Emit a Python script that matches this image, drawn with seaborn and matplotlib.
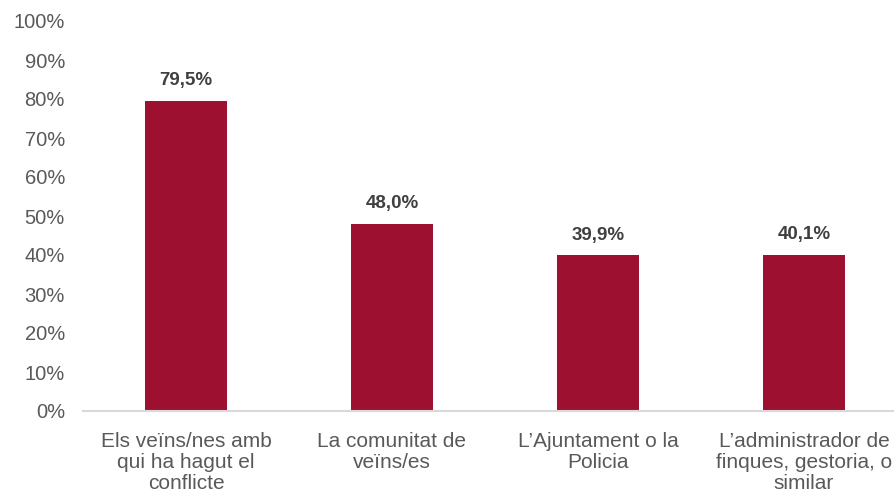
import matplotlib
matplotlib.use("Agg")
import matplotlib.pyplot as plt
import seaborn as sns
import pandas as pd
from matplotlib.ticker import FuncFormatter

categories = ["Els veïns/nes amb\nqui ha hagut el\nconflicte",
              "La comunitat de\nveïns/es",
              "L\u2019Ajuntament o la\nPolicia",
              "L\u2019administrador de\nfinques, gestoria, o\nsimilar"]
values = [79.5, 48.0, 39.9, 40.1]
value_labels = ["79,5%", "48,0%", "39,9%", "40,1%"]

sns.set_style("white")
plt.rcParams['font.family'] = ['Liberation Sans', 'DejaVu Sans']

df = pd.DataFrame({"cat": categories, "val": values})

fig = plt.figure(figsize=(8.95, 4.95), dpi=100)
ax = fig.add_axes([83/895, 84/495, (907-83)/895, (411-21)/495])
sns.barplot(data=df, x="cat", y="val", color="#9E1030", width=0.4, ax=ax,
            saturation=1, edgecolor="none")

ax.set_ylim(0, 100)
ax.set_yticks(range(0, 101, 10))
ax.yaxis.set_major_formatter(FuncFormatter(lambda v, p: f"{int(v)}%"))
ax.set_xlabel("")
ax.set_ylabel("")
for s in ["top", "right", "left"]:
    ax.spines[s].set_visible(False)
ax.spines["bottom"].set_color("#D9D9D9")
ax.spines["bottom"].set_linewidth(1.5)
ax.tick_params(axis="y", length=0, labelsize=14.5, labelcolor="#595959", pad=13)
ax.tick_params(axis="x", length=0, labelsize=15, labelcolor="#595959", pad=15)
for lab in ax.get_xticklabels():
    lab.set_linespacing(1.15)

for i, (v, t) in enumerate(zip(values, value_labels)):
    ax.text(i, v + 3.0, t, ha="center", va="bottom", fontsize=13.5,
            fontweight="bold", color="#404040")

fig.savefig("out.png", dpi=100)
